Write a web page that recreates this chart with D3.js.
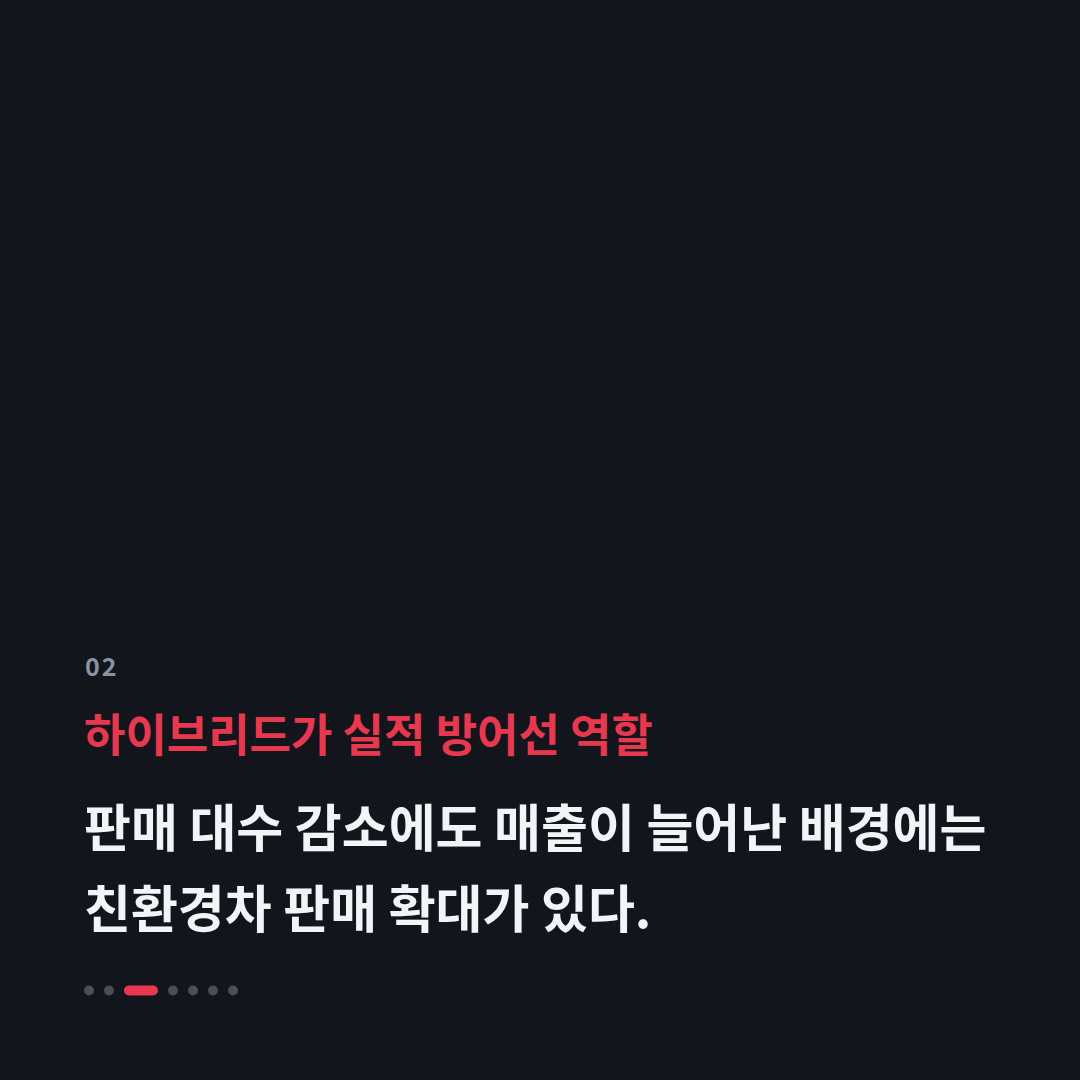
<!DOCTYPE html>
<html>
<head>
<meta charset="utf-8">
<script src="https://d3js.org/d3.v7.min.js"></script>
<style>
  html, body { margin: 0; padding: 0; background: #12151c; }
  svg { display: block; }
</style>
</head>
<body>
<div id="card"></div>
<script>
  // Card content
  var pageNumber = "02";
  var titleText = "하이브리드가 실적 방어선 역할";
  var bodyLines = ["판매 대수 감소에도 매출이 늘어난 배경에는", "친환경차 판매 확대가 있다."];
  var pages = [1, 2, 3, 4, 5, 6, 7];
  var activePage = 3;

  var W = 1080, H = 1080, left = 84;

  var svg = d3.select("#card")
    .append("svg")
    .attr("width", W)
    .attr("height", H);

  svg.append("rect")
    .attr("width", W)
    .attr("height", H)
    .attr("fill", "#12151c");

  var font = "'Noto Sans CJK KR', 'Noto Sans', sans-serif";

  // Page number
  svg.append("text")
    .attr("x", left + 1)
    .attr("y", 676)
    .attr("fill", "#8a93a2")
    .style("font-family", font)
    .style("font-size", "25px")
    .style("font-weight", 700)
    .style("letter-spacing", "2px")
    .text(pageNumber);

  // Red title
  svg.append("text")
    .attr("x", left)
    .attr("y", 752)
    .attr("fill", "#e8384f")
    .style("font-family", font)
    .style("font-size", "45px")
    .style("font-weight", 700)
    .text(titleText);

  // Body lines
  var lineY = d3.scaleLinear().domain([0, 1]).range([847, 928]);
  svg.selectAll("text.body")
    .data(bodyLines)
    .enter()
    .append("text")
    .attr("class", "body")
    .attr("x", left)
    .attr("y", function(d, i) { return lineY(i); })
    .attr("fill", "#f3f4f7")
    .style("font-family", font)
    .style("font-size", "51px")
    .style("font-weight", 700)
    .text(function(d) { return d; });

  // Pagination dots
  var dotD = 10, pillW = 34, gap = 10, dotY = 990.5;
  var xs = [], cur = 84;
  pages.forEach(function(p) {
    var w = p === activePage ? pillW : dotD;
    xs.push({ p: p, x: cur, w: w });
    cur += w + gap;
  });

  svg.selectAll("rect.dot")
    .data(xs)
    .enter()
    .append("rect")
    .attr("class", "dot")
    .attr("x", function(d) { return d.x; })
    .attr("y", dotY - dotD / 2)
    .attr("width", function(d) { return d.w; })
    .attr("height", dotD)
    .attr("rx", dotD / 2)
    .attr("fill", function(d) { return d.p === activePage ? "#e8384f" : "#4a4e56"; });
</script>
</body>
</html>
